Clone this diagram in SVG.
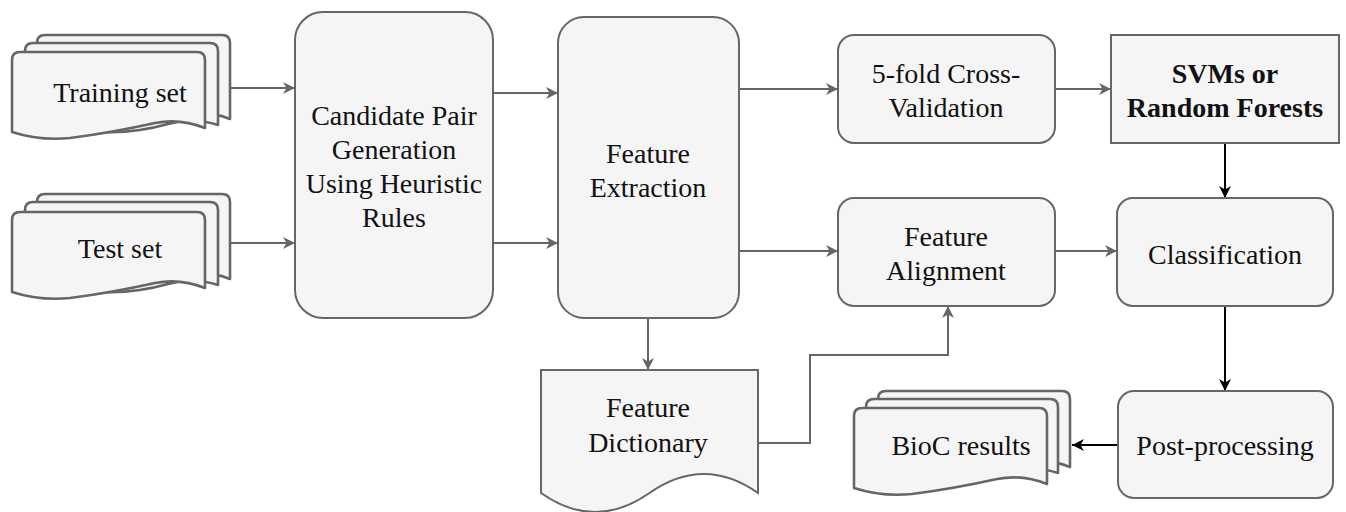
<svg xmlns="http://www.w3.org/2000/svg" width="1346" height="512" viewBox="0 0 1346 512">
<style>
.box{fill:#f5f5f5;stroke:#666;stroke-width:2}
.page{fill:#f5f5f5;stroke:#666;stroke-width:2.6;stroke-linejoin:round}
.t{font-family:'Liberation Serif','DejaVu Serif',serif;font-size:28px;fill:#111;text-anchor:middle}
.b{font-weight:bold}
.g{fill:none;stroke:#666;stroke-width:2}
.k{fill:none;stroke:#000;stroke-width:2}
</style>
<defs>
<marker id="ag" markerUnits="userSpaceOnUse" markerWidth="14" markerHeight="12" refX="12" refY="6" orient="auto">
<path d="M0,0 L12,6 L0,12 L3.5,6 Z" fill="#666"/>
</marker>
<marker id="ak" markerUnits="userSpaceOnUse" markerWidth="14" markerHeight="12" refX="12" refY="6" orient="auto">
<path d="M0,0 L12,6 L0,12 L3.5,6 Z" fill="#000"/>
</marker>
</defs>
<rect width="1346" height="512" fill="#fff"/>

<g id="connectors">
<path class="g" d="M230,88 H295" marker-end="url(#ag)"/>
<path class="g" d="M230,243 H295" marker-end="url(#ag)"/>
<path class="g" d="M493,93 H558" marker-end="url(#ag)"/>
<path class="g" d="M493,243 H558" marker-end="url(#ag)"/>
<path class="g" d="M739,89 H838" marker-end="url(#ag)"/>
<path class="g" d="M739,251 H838" marker-end="url(#ag)"/>
<path class="g" d="M1055,89 H1111" marker-end="url(#ag)"/>
<path class="g" d="M1055,251 H1117" marker-end="url(#ag)"/>
<path class="k" d="M1225,143 V198" marker-end="url(#ak)"/>
<path class="k" d="M1225,306 V391" marker-end="url(#ak)"/>
<path class="k" d="M1118,445 H1072" marker-end="url(#ak)"/>
<path class="g" d="M648,318 V370" marker-end="url(#ag)"/>
<path class="g" d="M758,443 H810 V355 H948 V306" marker-end="url(#ag)"/>
</g>

<g id="training-set">
<path class="page" d="M37,122 V43 Q37,35 45,35 H222 Q230,35 230,43 V119 Q205,109 180,116 Q130,130 85,120 Q60,114 37,122 Z"/>
<path class="page" d="M25,128 V51 Q25,43 33,43 H210 Q218,43 218,51 V125 Q193,117 168,124 Q118,138 73,128 Q48,122 25,128 Z"/>
<path class="page" d="M12,132 V60 Q12,52 20,52 H197 Q205,52 205,60 V128 Q180,118 155,123 Q110,133 70,138 Q40,141 12,132 Z"/>
<text class="t" x="120" y="102">Training set</text>
</g>

<g id="test-set">
<path class="page" d="M37,282 V202 Q37,194 45,194 H222 Q230,194 230,202 V279 Q205,269 180,276 Q130,290 85,280 Q60,274 37,282 Z"/>
<path class="page" d="M25,288 V210 Q25,202 33,202 H210 Q218,202 218,210 V285 Q193,277 168,284 Q118,298 73,288 Q48,282 25,288 Z"/>
<path class="page" d="M12,292 V220 Q12,212 20,212 H197 Q205,212 205,220 V288 Q180,278 155,283 Q110,293 70,298 Q40,301 12,292 Z"/>
<text class="t" x="120" y="258">Test set</text>
</g>

<g id="candidate">
<rect class="box" x="295" y="12" width="198" height="306" rx="28"/>
<text class="t" x="394" y="125">Candidate Pair</text>
<text class="t" x="394" y="159">Generation</text>
<text class="t" x="394" y="193">Using Heuristic</text>
<text class="t" x="394" y="227">Rules</text>
</g>

<g id="feature-extraction">
<rect class="box" x="558" y="17" width="181" height="301" rx="26"/>
<text class="t" x="648" y="163">Feature</text>
<text class="t" x="648" y="197">Extraction</text>
</g>

<g id="cross-validation">
<rect class="box" x="838" y="35" width="217" height="108" rx="16"/>
<text class="t" x="946" y="83">5-fold Cross-</text>
<text class="t" x="946" y="117">Validation</text>
</g>

<g id="svm">
<rect class="box" x="1111" y="35" width="228" height="108"/>
<text class="t b" x="1225" y="83">SVMs or</text>
<text class="t b" x="1225" y="117">Random Forests</text>
</g>

<g id="feature-alignment">
<rect class="box" x="838" y="198" width="217" height="108" rx="16"/>
<text class="t" x="946" y="246">Feature</text>
<text class="t" x="946" y="280">Alignment</text>
</g>

<g id="classification">
<rect class="box" x="1117" y="198" width="216" height="108" rx="16"/>
<text class="t" x="1225" y="264">Classification</text>
</g>

<g id="post-processing">
<rect class="box" x="1118" y="391" width="215" height="107" rx="16"/>
<text class="t" x="1225" y="455">Post-processing</text>
</g>

<g id="feature-dictionary">
<path class="box" d="M541,370 H758 V493 Q704,455 649.5,493 Q595,531 541,493 Z"/>
<text class="t" x="648" y="417">Feature</text>
<text class="t" x="648" y="452">Dictionary</text>
</g>

<g id="bioc-results">
<path class="page" d="M878,470 V399 Q878,391 886,391 H1062 Q1070,391 1070,399 V467 Q1045,457 1020,464 Q970,478 925,468 Q900,462 878,470 Z"/>
<path class="page" d="M866,476 V407 Q866,399 874,399 H1050 Q1058,399 1058,407 V473 Q1033,465 1008,472 Q958,486 913,476 Q888,470 866,476 Z"/>
<path class="page" d="M854,488 V416 Q854,408 862,408 H1039 Q1047,408 1047,416 V484 Q1022,474 997,479 Q952,489 912,494 Q882,497 854,488 Z"/>
<text class="t" x="961" y="455">BioC results</text>
</g>
</svg>
